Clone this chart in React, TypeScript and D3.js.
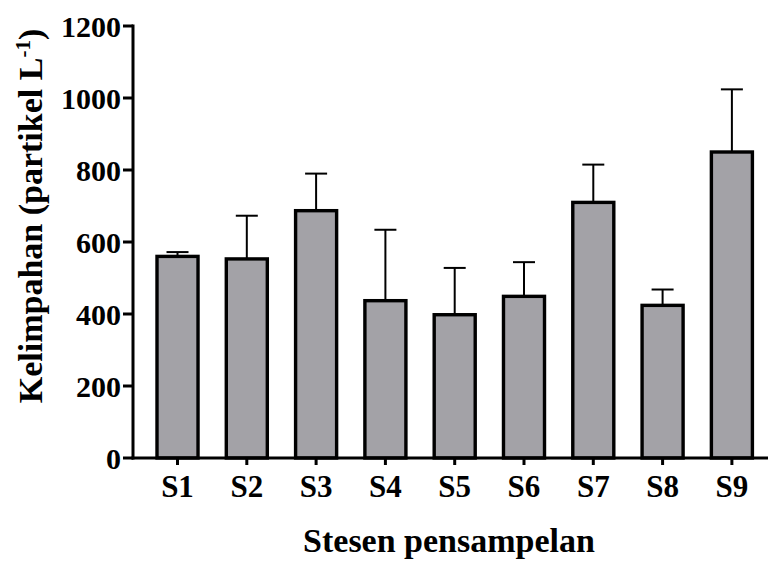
import React from "react";
import * as d3 from "d3";

const categories = ["S1", "S2", "S3", "S4", "S5", "S6", "S7", "S8", "S9"];
const means = [560, 553, 687, 437, 398, 449, 710, 424, 850];
const errors = [12, 120, 103, 197, 130, 95, 105, 44, 174];
const yTicks = [0, 200, 400, 600, 800, 1000, 1200];

const W = 769;
const H = 561;
const X0 = 133;
const Y0 = 458;
const Y1 = 26;
const FONT = "'Liberation Serif', 'Times New Roman', serif";

export default function App() {
  const x = d3
    .scaleBand<string>()
    .domain(categories)
    .range([X0, 776.4])
    .paddingInner(0.408)
    .paddingOuter(0.3463);
  const y = d3.scaleLinear().domain([0, 1200]).range([Y0, Y1]);
  const bw = x.bandwidth();
  const capW = 22;

  return (
    <svg
      width={W}
      height={H}
      style={{ position: "absolute", left: 0, top: 0, background: "#fff" }}
    >
      {categories.map((c, i) => {
        const cx = (x(c) as number) + bw / 2;
        return (
          <g key={"e" + c} stroke="#000" strokeWidth={2}>
            <line x1={cx} x2={cx} y1={y(means[i])} y2={y(means[i] + errors[i])} />
            <line
              x1={cx - capW / 2}
              x2={cx + capW / 2}
              y1={y(means[i] + errors[i])}
              y2={y(means[i] + errors[i])}
            />
          </g>
        );
      })}
      {categories.map((c, i) => (
        <rect
          key={"b" + c}
          x={x(c) as number}
          y={y(means[i])}
          width={bw}
          height={Y0 - y(means[i])}
          fill="#a3a2a7"
          stroke="#000"
          strokeWidth={3.4}
        />
      ))}
      <line x1={X0} x2={X0} y1={Y0 + 1.5} y2={Y1 - 1.5} stroke="#000" strokeWidth={3} />
      {yTicks.map((t) => (
        <g key={"yt" + t}>
          <line x1={X0 - 10} x2={X0} y1={y(t)} y2={y(t)} stroke="#000" strokeWidth={3} />
          <text
            x={X0 - 12}
            y={y(t)}
            dy="0.35em"
            textAnchor="end"
            fontFamily={FONT}
            fontWeight="bold"
            fontSize={30}
          >
            {t}
          </text>
        </g>
      ))}
      <line x1={X0 - 1.5} x2={768} y1={Y0} y2={Y0} stroke="#000" strokeWidth={3} />
      {categories.map((c) => {
        const cx = (x(c) as number) + bw / 2;
        return (
          <g key={"xt" + c}>
            <line x1={cx} x2={cx} y1={Y0} y2={Y0 + 7} stroke="#000" strokeWidth={3} />
            <text
              x={cx}
              y={497}
              textAnchor="middle"
              fontFamily={FONT}
              fontWeight="bold"
              fontSize={31}
            >
              {c}
            </text>
          </g>
        );
      })}
      <text
        x={449}
        y={552}
        textAnchor="middle"
        fontFamily={FONT}
        fontWeight="bold"
        fontSize={34}
      >
        Stesen pensampelan
      </text>
      <text
        transform="translate(42,216) rotate(-90)"
        textAnchor="middle"
        fontFamily={FONT}
        fontWeight="bold"
        fontSize={34}
      >
        Kelimpahan (partikel L
        <tspan baselineShift="super" fontSize={21}>-1</tspan>
        <tspan>)</tspan>
      </text>
    </svg>
  );
}
